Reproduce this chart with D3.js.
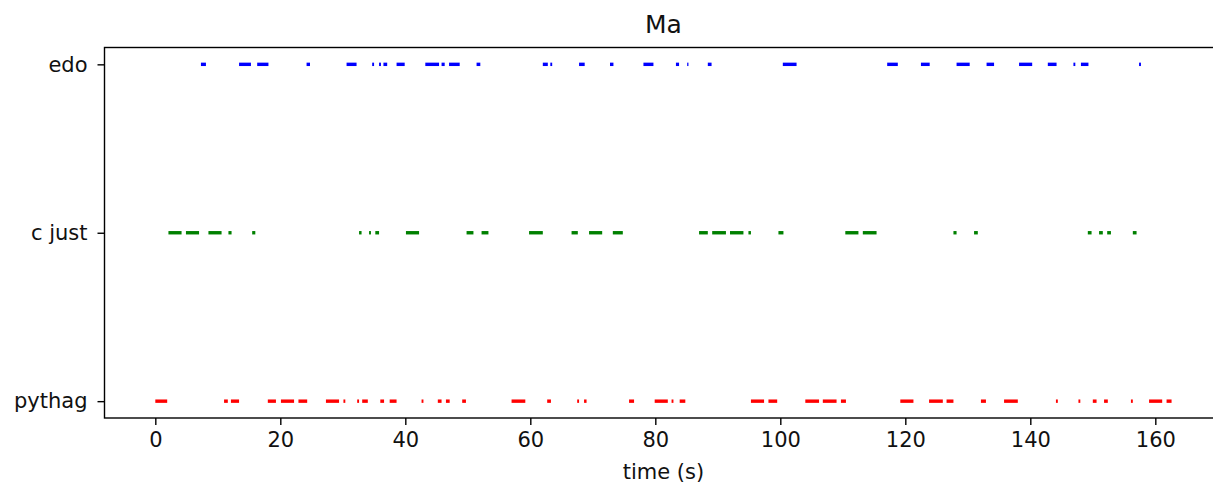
<!DOCTYPE html>
<html>
<head>
<meta charset="utf-8">
<script src="https://cdn.jsdelivr.net/npm/d3@7"></script>
<style>
  body { margin: 0; background: #fff; }
  svg { display: block; font-family: "DejaVu Sans", sans-serif; }
</style>
</head>
<body>
<div id="chart"></div>
<script>
// tracks, bottom to top
const tracks = ["pythag", "c just", "edo"];
const colors = ["#ff0000", "#008000", "#0000ff"];

// segments as [start (s), duration (s)]
const pythag = [[0,1.9],[11.0,0.6],[12.1,1.3],[18.0,1.3],[20.1,2.1],[22.9,1.4],[27.3,2.1],[30.1,0.3],
  [32.3,0.3],[33.1,0.9],[36.0,0.6],[37.5,1.1],[42.6,0.3],[45.2,0.6],[46.5,0.6],[49.1,0.6],[57.0,2.2],
  [62.7,0.6],[67.5,0.3],[68.6,0.4],[75.8,0.8],[79.9,2.1],[82.6,0.3],[83.9,0.9],[95.3,2.1],[98.1,1.4],
  [104.0,2.2],[106.8,2.2],[109.7,0.8],[119.2,2.1],[123.8,2.2],[126.6,1.1],[132.1,0.8],[135.8,2.2],
  [144.1,0.3],[147.7,0.3],[150.0,0.6],[151.8,0.6],[156.1,0.3],[159.0,2.1],[161.8,0.8]];
const cjust = [[2.1,2.1],[4.9,2.1],[8.5,2.1],[11.7,0.5],[15.5,0.5],[32.6,0.4],[34.2,0.3],[35.2,0.6],
  [40.1,2.1],[49.8,1.1],[52.2,1.1],[59.8,2.2],[66.6,1.0],[69.4,2.1],[73.2,1.6],[87.0,1.4],[89.1,2.2],
  [91.95,2.15],[94.9,0.4],[99.7,0.8],[110.4,2.1],[113.2,2.2],[127.7,0.5],[131.0,0.6],[149.2,0.6],
  [151.0,0.6],[152.3,0.6],[156.4,0.6]];
const edo = [[7.3,0.8],[13.4,1.9],[16.3,1.8],[24.2,0.55],[30.6,1.6],[34.7,0.3],[35.8,0.3],[36.5,0.6],
  [38.6,1.3],[43.2,2.2],[45.8,0.5],[47.0,1.7],[51.4,0.6],[62.0,0.8],[63.2,0.3],[67.8,0.9],[72.75,0.55],
  [78.1,1.6],[83.3,0.5],[85.1,0.2],[88.4,0.6],[100.4,2.2],[117.1,1.7],[122.5,1.4],[128.2,2.1],
  [133.0,1.2],[138.2,2.1],[142.8,1.4],[146.9,0.3],[148.1,1.2],[157.4,0.3]];
const xTicks = [0, 20, 40, 60, 80, 100, 120, 140, 160];

const width = 1213, height = 486;
const marginLeft = 104.5, marginTop = 47.5, axisBottom = 418;
const allSeg = [pythag, cjust, edo];

const svg = d3.select("#chart").append("svg")
    .attr("width", width)
    .attr("height", height);

// matplotlib-style 5% margins around data
const xmax = d3.max(allSeg.flat(), d => d[0] + d[1]);
const pad = xmax * 0.05;
const x = d3.scaleLinear()
    .domain([-pad, xmax + pad])
    .range([marginLeft, marginLeft + (xmax + 2 * pad) * 6.25]);
const y = d3.scaleLinear()
    .domain([-0.1, tracks.length - 1 + 0.1])
    .range([axisBottom, marginTop]);

// bars
allSeg.forEach((segs, i) => {
  svg.append("g").selectAll("rect")
    .data(segs)
    .join("rect")
      .attr("x", d => x(d[0]))
      .attr("width", d => Math.max(x(d[0] + d[1]) - x(d[0]), 1))
      .attr("y", y(i) - 1.7)
      .attr("height", 3.4)
      .attr("fill", colors[i]);
});

// axes
const xAxis = svg.append("g")
    .attr("transform", "translate(0," + axisBottom + ")")
    .call(d3.axisBottom(x).tickValues(xTicks).tickSize(7).tickPadding(7));
const yAxis = svg.append("g")
    .attr("transform", "translate(" + marginLeft + ",0)")
    .call(d3.axisLeft(y).tickValues([0, 1, 2]).tickFormat((d) => tracks[d]).tickSize(7).tickPadding(10));

[xAxis, yAxis].forEach(a => {
  a.select(".domain").remove();
  a.selectAll("line").attr("stroke", "#000").attr("stroke-width", 1.4);
  a.selectAll("text").attr("font-size", 21).attr("fill", "#111")
    .attr("font-family", "DejaVu Sans, sans-serif");
});

// spines
svg.append("rect")
    .attr("x", marginLeft)
    .attr("y", marginTop)
    .attr("width", x.range()[1] - marginLeft)
    .attr("height", axisBottom - marginTop)
    .attr("fill", "none")
    .attr("stroke", "#000")
    .attr("stroke-width", 1.4);

// title and label
svg.append("text")
    .attr("x", (marginLeft + x.range()[1]) / 2)
    .attr("y", 33)
    .attr("text-anchor", "middle")
    .attr("font-size", 25)
    .attr("fill", "#111")
    .text("Ma");

svg.append("text")
    .attr("x", (marginLeft + x.range()[1]) / 2)
    .attr("y", 479)
    .attr("text-anchor", "middle")
    .attr("font-size", 21)
    .attr("fill", "#111")
    .text("time (s)");
</script>
</body>
</html>
